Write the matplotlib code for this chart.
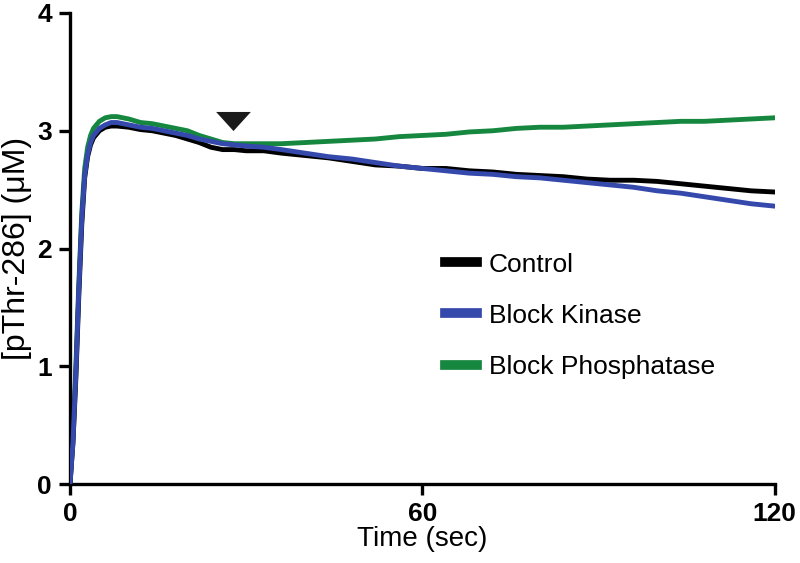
import matplotlib
matplotlib.use('Agg')
import matplotlib.pyplot as plt

plt.rcParams['font.family'] = ['Liberation Sans', 'DejaVu Sans']

# tiempo (s) y curvas
tiempo = [0, 0.5, 1, 1.5, 2, 2.5, 3, 3.5, 4, 5, 6, 7,
          8, 10, 12, 14, 16, 18, 20, 22, 24, 26, 28, 30, 33, 36, 40, 44, 48,
          52, 56, 60, 64, 68, 72, 76, 80, 84, 88, 92, 96, 100, 104, 108, 112,
          116, 120]
control = [0, 0.35, 0.9, 1.6, 2.2, 2.6, 2.78, 2.88, 2.94, 3.0, 3.03, 3.04,
           3.04, 3.03, 3.01, 3.0, 2.98, 2.96, 2.93, 2.9, 2.86, 2.84, 2.84, 2.83,
           2.83, 2.81, 2.79, 2.77, 2.74, 2.71, 2.70, 2.68, 2.68, 2.66, 2.65,
           2.63, 2.62, 2.61, 2.59, 2.58, 2.58, 2.57, 2.55, 2.53, 2.51, 2.49, 2.48]
block_kinase = [0, 0.35, 0.95, 1.65, 2.25, 2.62, 2.8, 2.9, 2.96, 3.02, 3.05, 3.07,
                3.07, 3.05, 3.03, 3.02, 3.0, 2.98, 2.96, 2.93, 2.91, 2.89, 2.88,
                2.87, 2.86, 2.84, 2.81, 2.78, 2.76, 2.73, 2.70, 2.68, 2.66, 2.64,
                2.63, 2.61, 2.6, 2.58, 2.56, 2.54, 2.52, 2.49, 2.47, 2.44, 2.41,
                2.38, 2.36]
block_phosphatase = [0, 0.4, 1.0, 1.7, 2.3, 2.68, 2.86, 2.96, 3.02, 3.08, 3.11, 3.12,
                     3.12, 3.1, 3.07, 3.06, 3.04, 3.02, 3.0, 2.96, 2.93, 2.9, 2.89,
                     2.89, 2.89, 2.89, 2.9, 2.91, 2.92, 2.93, 2.95, 2.96, 2.97, 2.99,
                     3.0, 3.02, 3.03, 3.03, 3.04, 3.05, 3.06, 3.07, 3.08, 3.08, 3.09,
                     3.10, 3.11]
marca_t = 27.7
marca_y = 3.08

# colores
cor_control = '#000000'
cor_kinase = '#3549ad'
cor_phos = '#16873f'

fig = plt.figure(figsize=(8, 5.63), dpi=100)
ax = fig.add_axes([0.0875, 0.14, 0.881, 0.837])

ax.plot(tiempo, control, color=cor_control, lw=3.5, label='Control', zorder=3)
ax.plot(tiempo, block_phosphatase, color=cor_phos, lw=3.5, label='Block Phosphatase', zorder=2)
ax.plot(tiempo, block_kinase, color=cor_kinase, lw=3.5, label='Block Kinase', zorder=4)

# triangulo ancho hacia abajo
tri = [(-1, 0.55), (1, 0.55), (0, -0.55), (-1, 0.55)]
ax.plot([marca_t], [marca_y], marker=tri, color='#1a1a1a', markersize=25, ls='none',
        markeredgewidth=0)

ax.set_xlim(0, 120)
ax.set_ylim(0, 4)
ax.set_xticks([0, 60, 120])
ax.set_yticks([0, 1, 2, 3, 4])
for s in ['top', 'right']:
    ax.spines[s].set_visible(False)
for s in ['left', 'bottom']:
    ax.spines[s].set_linewidth(2.4)
ax.tick_params(width=2.4, length=8, labelsize=19, pad=5)
for lab in ax.get_xticklabels() + ax.get_yticklabels():
    lab.set_fontweight('bold')

ax.set_xlabel('Time (sec)', fontsize=20, labelpad=0)
ax.set_ylabel('[pThr-286] (\u03bcM)', fontsize=23, labelpad=4)

handles, labels = ax.get_legend_handles_labels()
orden = [0, 2, 1]
leg = ax.legend([handles[i] for i in orden], [labels[i] for i in orden],
                loc='upper left', bbox_to_anchor=(0.499, 0.542), frameon=False,
                fontsize=19, handlelength=1.2, labelspacing=1.03, handletextpad=0.45)
for h in leg.get_lines():
    h.set_linewidth(7)

fig.savefig('out.png', dpi=100)
